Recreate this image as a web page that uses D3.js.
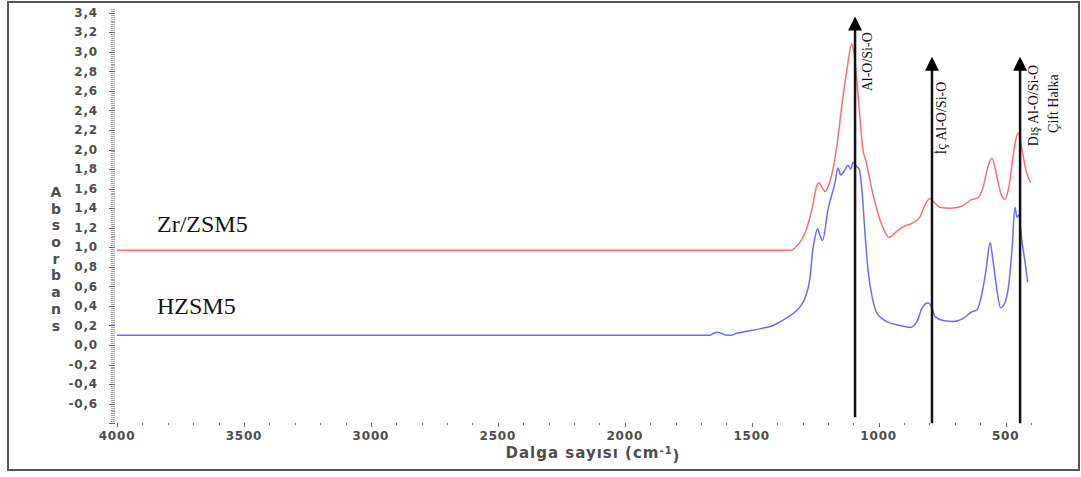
<!DOCTYPE html>
<html>
<head>
<meta charset="utf-8">
<script src="https://cdn.jsdelivr.net/npm/d3@7"></script>
<style>
  body { margin: 0; background: #fff; }
  svg { display: block; }
</style>
</head>
<body>
<div id="container"></div>
<script>
// Spectrum data (wavenumber, absorbance)
var wnZr  = [4000, 1345, 1320, 1300, 1280, 1261, 1245, 1236, 1222, 1211, 1198, 1184, 1164, 1145, 1126, 1106, 1097, 1085, 1074, 1062, 1050, 1040, 1023, 1003, 983, 959, 935, 904, 865, 837, 818, 798, 778, 759, 719, 672, 633, 613, 589, 570, 554, 534, 519, 503, 487, 471, 460, 451, 433, 417, 401];
var absZr = [0.97, 0.97, 1.02, 1.09, 1.22, 1.41, 1.62, 1.66, 1.61, 1.57, 1.63, 1.75, 2.05, 2.45, 2.80, 3.08, 2.99, 2.68, 2.33, 2.00, 1.88, 1.76, 1.55, 1.35, 1.20, 1.10, 1.15, 1.21, 1.25, 1.31, 1.43, 1.50, 1.45, 1.41, 1.40, 1.42, 1.49, 1.50, 1.61, 1.82, 1.91, 1.72, 1.55, 1.49, 1.62, 1.92, 2.10, 2.17, 1.96, 1.76, 1.66];

var wnH  = [4000, 1665, 1650, 1637, 1620, 1600, 1580, 1560, 1519, 1460, 1416, 1380, 1338, 1310, 1290, 1271, 1259, 1251, 1241, 1231, 1221, 1200, 1172, 1160, 1150, 1133, 1121, 1110, 1101, 1085, 1077, 1066, 1054, 1042, 1023, 1003, 968, 916, 877, 849, 829, 806, 790, 778, 746, 707, 668, 633, 613, 593, 577, 561, 550, 534, 520, 503, 487, 475, 463, 456, 448, 436, 423, 413];
var absH = [0.10, 0.10, 0.12, 0.13, 0.12, 0.10, 0.10, 0.12, 0.14, 0.17, 0.20, 0.25, 0.32, 0.39, 0.48, 0.68, 0.98, 1.10, 1.19, 1.12, 1.07, 1.38, 1.66, 1.81, 1.74, 1.79, 1.84, 1.80, 1.87, 1.82, 1.80, 1.59, 1.15, 0.77, 0.46, 0.31, 0.24, 0.20, 0.18, 0.24, 0.38, 0.43, 0.38, 0.29, 0.25, 0.24, 0.27, 0.34, 0.36, 0.53, 0.77, 1.05, 0.87, 0.56, 0.38, 0.43, 0.63, 0.97, 1.41, 1.31, 1.33, 1.07, 0.84, 0.64];

// Tick labels
var xTicks = [4000, 3500, 3000, 2500, 2000, 1500, 1000, 500];
var yTicks = [-0.6, -0.4, -0.2, 0, 0.2, 0.4, 0.6, 0.8, 1.0, 1.2, 1.4, 1.6, 1.8, 2.0, 2.2, 2.4, 2.6, 2.8, 3.0, 3.2, 3.4];

// Band markers
var bandWn     = [1093, 790, 443];
var bandTop    = [3.36, 2.95, 2.95];
var bandBottom = [-0.74, -0.8, -0.8];

var width = 1081, height = 477;

var x = d3.scaleLinear().domain([4000, 400]).range([117, 1031]);
var y = d3.scaleLinear().domain([-0.8, 3.45]).range([423.2, 7.8]);

var svg = d3.select("#container")
            .append("svg")
            .attr("width", width)
            .attr("height", height);

// Outer frame
svg.append("rect")
   .attr("x", 8).attr("y", 2)
   .attr("width", 1071).attr("height", 468)
   .attr("fill", "none")
   .attr("stroke", "#555")
   .attr("stroke-width", 2);

var tickColor = "#666";
var labelColor = "#4d4d4d";
var axisFont = "DejaVu Sans, Verdana, sans-serif";

// Y axis: dense minor ticks, labels with comma decimals
var yMinor = d3.range(-0.8, 3.451, 0.02);
svg.append("g").selectAll("line")
   .data(yMinor)
   .enter().append("line")
   .attr("x1", 111).attr("x2", 115)
   .attr("y1", function(d) { return Math.round(y(d)) + 0.5; })
   .attr("y2", function(d) { return Math.round(y(d)) + 0.5; })
   .attr("stroke", tickColor)
   .attr("stroke-width", 0.6);

svg.append("g").selectAll("line")
   .data(yTicks.concat([-0.8]))
   .enter().append("line")
   .attr("x1", 109).attr("x2", 115)
   .attr("y1", function(d) { return Math.round(y(d)) + 0.5; })
   .attr("y2", function(d) { return Math.round(y(d)) + 0.5; })
   .attr("stroke", tickColor)
   .attr("stroke-width", 1);

svg.append("g").selectAll("text")
   .data(yTicks)
   .enter().append("text")
   .attr("x", 98)
   .attr("y", function(d) { return y(d); })
   .attr("dy", "0.35em")
   .attr("text-anchor", "end")
   .style("font-family", axisFont)
   .style("font-weight", "bold")
   .style("font-size", "12px")
   .style("letter-spacing", "0.8px")
   .style("fill", labelColor)
   .text(function(d) { return (d < 0 ? "-" : "") + d3.format(".1f")(Math.abs(d)).replace(".", ","); });

// Y title, one letter per line
var yTitle = "Absorbans".split("");
svg.append("g").selectAll("text")
   .data(yTitle)
   .enter().append("text")
   .attr("x", 56)
   .attr("y", function(d, i) { return 192 + i * 16.7; })
   .attr("dy", "0.35em")
   .attr("text-anchor", "middle")
   .style("font-family", axisFont)
   .style("font-weight", "bold")
   .style("font-size", "14px")
   .style("fill", labelColor)
   .text(function(d) { return d; });

// X axis: minor ticks every 100, major every 500
var xMinor = d3.range(4000, 399, -100);
svg.append("g").selectAll("line")
   .data(xMinor)
   .enter().append("line")
   .attr("x1", function(d) { return Math.round(x(d)) + 0.5; })
   .attr("x2", function(d) { return Math.round(x(d)) + 0.5; })
   .attr("y1", 423)
   .attr("y2", function(d) { return d % 500 === 0 ? 427 : 425; })
   .attr("stroke", tickColor)
   .attr("stroke-width", 1);

svg.append("g").selectAll("text")
   .data(xTicks)
   .enter().append("text")
   .attr("x", function(d) { return x(d); })
   .attr("y", 436)
   .attr("dy", "0.35em")
   .attr("text-anchor", "middle")
   .style("font-family", axisFont)
   .style("font-weight", "bold")
   .style("font-size", "12px")
   .style("letter-spacing", "0.8px")
   .style("fill", labelColor)
   .text(function(d) { return d; });

var xTitle = svg.append("text")
   .attr("x", 593)
   .attr("y", 453)
   .attr("dy", "0.35em")
   .attr("text-anchor", "middle")
   .style("font-family", axisFont)
   .style("font-weight", "bold")
   .style("font-size", "15px")
   .style("letter-spacing", "1px")
   .style("fill", labelColor);
xTitle.append("tspan").text("Dalga sayısı (cm");
xTitle.append("tspan").attr("dy", "-0.45em").style("font-size", "10px").text("-1");
xTitle.append("tspan").attr("dy", "0.45em").text(")");

// Spectra
var line = d3.line()
             .x(function(d) { return x(d[0]); })
             .y(function(d) { return y(d[1]); })
             .curve(d3.curveMonotoneX);

svg.append("path")
   .datum(d3.zip(wnZr, absZr))
   .attr("d", line)
   .attr("fill", "none")
   .attr("stroke", "#ff6f6f")
   .attr("stroke-width", 1.5);

svg.append("path")
   .datum(d3.zip(wnH, absH))
   .attr("d", line)
   .attr("fill", "none")
   .attr("stroke", "#6b6bff")
   .attr("stroke-width", 1.5);

// Sample names
svg.append("text")
   .attr("x", 157).attr("y", 232)
   .style("font-family", "Liberation Serif, Times New Roman, serif")
   .style("font-size", "24px")
   .style("fill", "#111")
   .text("Zr/ZSM5");

svg.append("text")
   .attr("x", 157).attr("y", 314)
   .style("font-family", "Liberation Serif, Times New Roman, serif")
   .style("font-size", "24px")
   .style("fill", "#111")
   .text("HZSM5");

// Band arrows
svg.selectAll(".band")
   .data(bandWn)
   .enter().append("line")
   .attr("class", "band")
   .attr("x1", function(d) { return x(d); })
   .attr("x2", function(d) { return x(d); })
   .attr("y1", function(d, i) { return y(bandBottom[i]); })
   .attr("y2", function(d, i) { return y(bandTop[i]) + 10; })
   .attr("stroke", "#111")
   .attr("stroke-width", 2.5);

svg.selectAll(".head")
   .data(bandWn)
   .enter().append("path")
   .attr("class", "head")
   .attr("d", function(d, i) {
       var cx = x(d), ty = y(bandTop[i]);
       return "M" + cx + "," + ty + "L" + (cx - 7) + "," + (ty + 14) + "L" + (cx + 7) + "," + (ty + 14) + "Z";
   })
   .attr("fill", "#000");

// Band labels, rotated to read bottom to top
var bandText = [
    { t: "Al-O/Si-O",     w: 1093, dx: 12, v: 3.20, anchor: "end" },
    { t: "İç Al-O/Si-O",  w: 790,  dx: 9,  v: 1.95, anchor: "start" },
    { t: "Dış Al-O/Si-O", w: 443,  dx: 13, v: 2.45, anchor: "middle" },
    { t: "Çift Halka",    w: 443,  dx: 33, v: 2.47, anchor: "middle" }
];
svg.selectAll(".bandlabel")
   .data(bandText)
   .enter().append("text")
   .attr("class", "bandlabel")
   .attr("transform", function(d) { return "translate(" + (x(d.w) + d.dx) + "," + y(d.v) + ") rotate(-90)"; })
   .attr("dy", "0.35em")
   .attr("text-anchor", function(d) { return d.anchor; })
   .style("font-family", "Liberation Serif, Times New Roman, serif")
   .style("font-size", "14px")
   .style("fill", "#111")
   .text(function(d) { return d.t; });
</script>
</body>
</html>
